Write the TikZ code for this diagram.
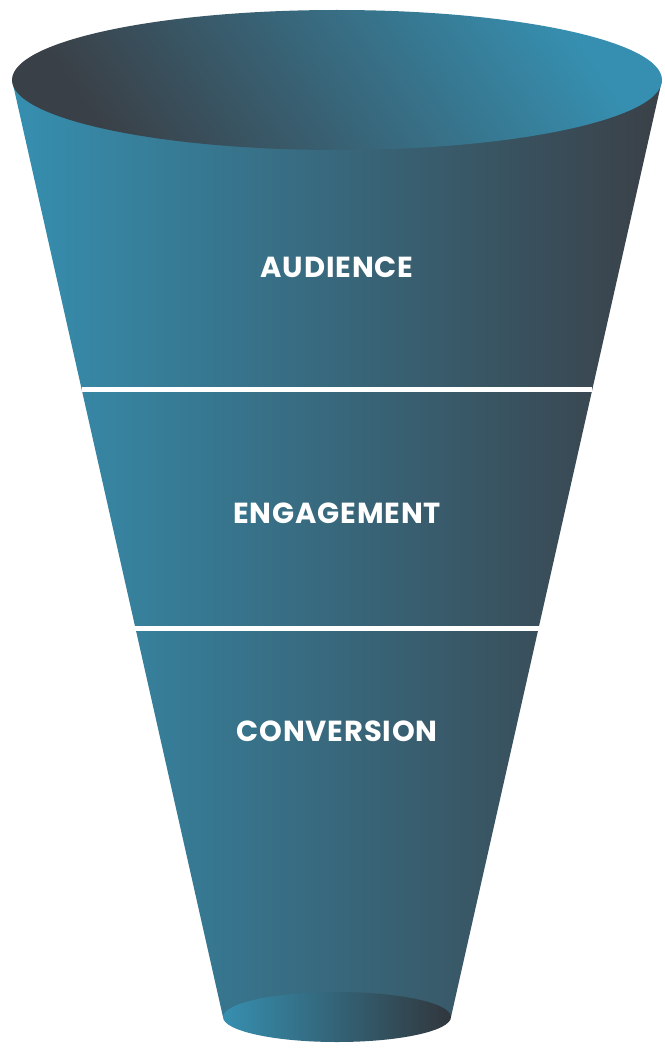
\documentclass[tikz,border=0pt]{standalone}
\usepackage{fontspec}
\setmainfont{Poppins}
\newfontfamily\stagefont{Poppins}[LetterSpace=3]
\usetikzlibrary{calc}
\definecolor{funnelblue}{RGB}{54,143,176}
\definecolor{funnelteal}{RGB}{46,108,128}
\definecolor{funnelslate}{RGB}{58,64,71}

\begin{document}
\begin{tikzpicture}[x=0.02cm,y=-0.02cm,
	stagetext/.style={text=white,font=\stagefont\bfseries\fontsize{16.5}{20}\selectfont},
	divider/.style={white,line width=3pt}]
	\useasboundingbox (0,0) rectangle (664,1051);
	
	\coordinate (TL) at (12,80);
	\coordinate (TR) at (662,80);
	\coordinate (BL) at (223,1017);
	\coordinate (BR) at (451,1017);
	
	%body of the funnel
	\shade[left color=funnelblue,middle color=funnelteal,right color=funnelslate] (TL) -- (BL) -- (BR) -- (TR) -- cycle;
	
	%bottom and top openings
	\shade[left color=funnelblue,middle color=funnelteal,right color=funnelslate!85!black] (337,1017) ellipse [x radius=114,y radius=25];
	\shade[top color=funnelblue,bottom color=funnelslate,shading angle=-55] (337,80) ellipse [x radius=325,y radius=70];
	
	\draw[divider] ($(TL)!0.33!(BL)$) -- ($(TR)!0.33!(BR)$);
	\draw[divider] ($(TL)!0.585!(BL)$) -- ($(TR)!0.585!(BR)$);
	
	\node[stagetext] (aud) at (337,267) {AUDIENCE};
	\node[stagetext] (eng) at (337,513) {ENGAGEMENT};
	\node[stagetext] (conv) at (337,731) {CONVERSION};
	
\end{tikzpicture}
\end{document}
